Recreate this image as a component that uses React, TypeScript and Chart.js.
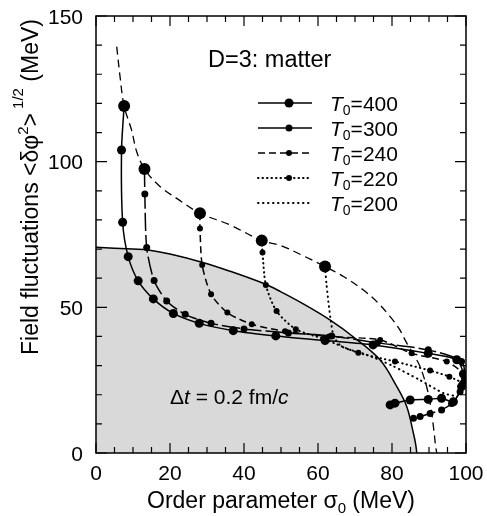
import React, { useEffect, useRef } from "react";
import { Chart, registerables } from "chart.js";

Chart.register(...registerables);

const FONT = '"Liberation Sans", Arial, Helvetica, sans-serif';

// ---- data ----
const xTicks = [0, 20, 40, 60, 80, 100];
const yTicks = [0, 50, 100, 150];

// shaded region boundary
const boundaryX = [0, 10, 14.1, 20, 28.6, 36, 45.7, 50, 56, 63.2, 69.5, 76.8, 81.3, 84, 85.8, 86.4, 86.7];
const boundaryY = [70.6, 70.0, 69.7, 68.3, 65.5, 62.5, 58, 55.3, 51.2, 45.7, 39.9, 31.9, 22.8, 15.9, 6.7, 3, 0];

// dashed envelope of initial conditions
const envelopeX = [5.6, 6.5, 7.6, 9.6, 11.0, 13.1, 17, 21.8, 28.1, 36.2, 44.8, 50, 56, 61.9, 67, 72.2, 76, 79.5, 82, 84, 86, 87.6, 89.2, 90.3, 91.2, 91.8, 92.1];
const envelopeY = [139.5, 129.2, 119.1, 110.9, 103.4, 97.5, 91.8, 87.4, 82.3, 78.3, 72.9, 71.2, 67.7, 64, 60.5, 56, 51.8, 46.8, 42.5, 37.7, 33.5, 29.6, 23.5, 17.2, 9, 2.2, 0];

// trajectories
const t400X = [7.6, 6.9, 7.2, 8.7, 11.4, 15.5, 20.9, 27.9, 37.1, 48.6, 61.9, 74.9, 89.8, 97.5, 99.3, 98.8, 96.6, 93.4, 89.8, 84.9, 80.8, 79.5];
const t400Y = [119.1, 104, 79.2, 67.4, 59.1, 52.9, 47.9, 44.5, 42.0, 40.2, 38.6, 37.1, 34.2, 32.0, 27.1, 22.8, 17.6, 18.8, 18.4, 18.2, 17.1, 16.5];

const t300X = [13.1, 13.2, 13.7, 15.7, 19.1, 24.1, 31.1, 40, 52, 63.7, 76, 89.8, 98.8, 99.6, 98.4, 96.1, 93.4, 90.3, 87.6, 85.8];
const t300Y = [97.5, 88.9, 70.5, 59.2, 52.2, 47.6, 44.5, 42.6, 41.2, 40.2, 37.8, 35.4, 31.4, 25.6, 21, 17, 14.8, 13.6, 12.5, 11.9];

const t240X = [28.1, 28.1, 28.7, 31.1, 35.5, 42.1, 51.1, 63, 76.8, 85.3, 94.8, 99.3, 99.0];
const t240Y = [82.3, 77.1, 64.5, 54.5, 48.2, 44.2, 41.8, 40, 38.8, 34.2, 31.4, 27.1, 24];

const t220X = [44.8, 45, 45.9, 48.8, 54, 61.4, 70.9, 80.8, 90.3, 95.5, 99.2];
const t220Y = [72.9, 68.8, 57.7, 48.7, 42.5, 39.2, 34.4, 31.4, 28.3, 26.2, 24];

const t200X = [61.9, 62.3, 62.8, 63.4, 64.3, 66.5, 73, 80, 87.6, 94, 97.5];
const t200Y = [64, 58, 52, 46, 40, 36.5, 33.8, 30, 25, 20.5, 19.5];

const legendLabels = ["400", "300", "240", "220", "200"];

const pts = (xv: number[], yv: number[]) => xv.map((x, i) => ({ x, y: yv[i] }));
const radii = (n: number, big: number, small: number) => {
  const a: number[] = [];
  for (let i = 0; i < n; i++) a.push(i === 0 ? big : small);
  return a;
};

type Seg = { t: string; font: string; dy?: number };

function drawRich(ctx: CanvasRenderingContext2D, segs: Seg[], x: number, y: number, align: "left" | "center") {
  let total = 0;
  const widths = segs.map((s) => {
    ctx.font = s.font;
    const w = ctx.measureText(s.t).width;
    total += w;
    return w;
  });
  let cx = align === "center" ? x - total / 2 : x;
  ctx.textAlign = "left";
  ctx.textBaseline = "alphabetic";
  segs.forEach((s, i) => {
    ctx.font = s.font;
    ctx.fillText(s.t, cx, y + (s.dy || 0));
    cx += widths[i];
  });
}

const styles = [
  { dash: [] as number[], width: 1.5, r: 4.5 },
  { dash: [] as number[], width: 1.5, r: 3.5 },
  { dash: [7, 4], width: 1.5, r: 3 },
  { dash: [0.5, 4], width: 2, r: 3 },
  { dash: [0.5, 4.5], width: 2, r: 0 },
];

const f = (s: number, it = false) => `${it ? "italic " : ""}${s}px ${FONT}`;

const decor = {
  id: "decor",
  afterDatasetsDraw(chart: any) {
    const { ctx, chartArea: a, scales } = chart;
    const x = scales.x;
    const y = scales.y;
    ctx.save();
    ctx.strokeStyle = "#000";
    ctx.lineWidth = 1.5;
    ctx.setLineDash([]);
    ctx.strokeRect(a.left, a.top, a.right - a.left, a.bottom - a.top);
    ctx.lineWidth = 1.2;
    ctx.beginPath();
    for (let v = 0; v <= 100; v += 5) {
      const px = x.getPixelForValue(v);
      const len = v % 20 === 0 ? 10 : 6;
      ctx.moveTo(px, a.bottom);
      ctx.lineTo(px, a.bottom - len);
      ctx.moveTo(px, a.top);
      ctx.lineTo(px, a.top + len);
    }
    for (let v = 0; v <= 150; v += 10) {
      const py = y.getPixelForValue(v);
      const len = v % 50 === 0 ? 11 : 6;
      ctx.moveTo(a.left, py);
      ctx.lineTo(a.left + len, py);
      ctx.moveTo(a.right, py);
      ctx.lineTo(a.right - len, py);
    }
    ctx.stroke();

    // tick labels
    ctx.fillStyle = "#000";
    ctx.font = f(21);
    ctx.textAlign = "center";
    ctx.textBaseline = "alphabetic";
    xTicks.forEach((v) => ctx.fillText(String(v), x.getPixelForValue(v), a.bottom + 27));
    ctx.textAlign = "right";
    yTicks.forEach((v) => ctx.fillText(String(v), a.left - 13, y.getPixelForValue(v) + 7.5));
    ctx.restore();
  },
  afterDraw(chart: any) {
    const { ctx, chartArea: a } = chart;
    ctx.save();
    ctx.fillStyle = "#000";

    drawRich(ctx, [{ t: "D=3: matter", font: f(23.5) }], 208, 67, "left");

    legendLabels.forEach((lab, i) => {
      const ly = 103 + 25 * i;
      const st = styles[i];
      ctx.strokeStyle = "#000";
      ctx.lineWidth = st.width;
      ctx.lineCap = st.width >= 2 ? "round" : "butt";
      ctx.setLineDash(i < 2 ? [] : st.dash);
      ctx.beginPath();
      ctx.moveTo(258, ly);
      ctx.lineTo(312, ly);
      ctx.stroke();
      ctx.setLineDash([]);
      if (st.r > 0) {
        ctx.beginPath();
        ctx.arc(289, ly, st.r, 0, Math.PI * 2);
        ctx.fill();
      }
      drawRich(
        ctx,
        [
          { t: "T", font: f(21, true) },
          { t: "0", font: f(14), dy: 4 },
          { t: "=" + lab, font: f(21) },
        ],
        330,
        ly + 8,
        "left"
      );
    });

    drawRich(
      ctx,
      [
        { t: "\u0394", font: f(21) },
        { t: "t", font: f(21, true) },
        { t: " = 0.2 fm/", font: f(21) },
        { t: "c", font: f(21, true) },
      ],
      170,
      404,
      "left"
    );

    drawRich(
      ctx,
      [
        { t: "Order parameter \u03c3", font: f(23) },
        { t: "0", font: f(15), dy: 5 },
        { t: " (MeV)", font: f(23) },
      ],
      (a.left + a.right) / 2,
      508,
      "center"
    );

    ctx.translate(38, 187);
    ctx.rotate(-Math.PI / 2);
    drawRich(
      ctx,
      [
        { t: "Field fluctuations <\u03b4\u03c6", font: f(23) },
        { t: "2", font: f(15), dy: -10 },
        { t: ">", font: f(23) },
        { t: " 1/2", font: f(15), dy: -15 },
        { t: " (MeV)", font: f(23) },
      ],
      0,
      0,
      "center"
    );
    ctx.restore();
  },
};

function lineDs(xv: number[], yv: number[], i: number) {
  const st = styles[i];
  return {
    data: pts(xv, yv),
    showLine: true,
    borderColor: "#000",
    backgroundColor: "#000",
    borderWidth: st.width,
    borderDash: i === 1 ? [18, 4] : st.dash,
    borderCapStyle: st.width >= 2 ? "round" : "butt",
    pointRadius: radii(xv.length, 6, st.r),
    pointBorderWidth: 0,
    pointBackgroundColor: "#000",
    tension: 0.25,
    fill: false,
    order: i,
  };
}

export default function App() {
  const ref = useRef<HTMLCanvasElement>(null);
  useEffect(() => {
    if (!ref.current) return;
    const chart = new Chart(ref.current, {
      type: "scatter",
      data: {
        datasets: [
          lineDs(t400X, t400Y, 0),
          lineDs(t300X, t300Y, 1),
          lineDs(t240X, t240Y, 2),
          lineDs(t220X, t220Y, 3),
          lineDs(t200X, t200Y, 4),
          {
            data: pts(envelopeX, envelopeY),
            showLine: true,
            borderColor: "#000",
            borderWidth: 1.3,
            borderDash: [8, 5],
            pointRadius: 0,
            tension: 0.35,
            fill: false,
            order: 8,
          },
          {
            data: pts(boundaryX, boundaryY),
            showLine: true,
            borderColor: "#000",
            backgroundColor: "#d9d9d9",
            borderWidth: 1.5,
            pointRadius: 0,
            tension: 0.35,
            fill: "origin",
            order: 9,
          },
        ] as any,
      },
      options: {
        animation: false,
        responsive: false,
        layout: { padding: { top: 16, right: 21, left: 0, bottom: 0 } },
        plugins: { legend: { display: false }, tooltip: { enabled: false } },
        scales: {
          x: {
            type: "linear",
            min: 0,
            max: 100,
            afterFit: (s: any) => {
              s.height = 63;
            },
            grid: { display: false, drawTicks: false },
            border: { display: false },
            ticks: { display: false },
          },
          y: {
            type: "linear",
            min: 0,
            max: 150,
            afterFit: (s: any) => {
              s.width = 96;
            },
            grid: { display: false, drawTicks: false },
            border: { display: false },
            ticks: { display: false },
          },
        },
      } as any,
      plugins: [decor],
    });
    return () => chart.destroy();
  }, []);
  return (
    <div style={{ position: "fixed", left: 0, top: 0, width: 487, height: 516, background: "#fff" }}>
      <canvas ref={ref} width={487} height={516} style={{ display: "block" }} />
    </div>
  );
}
